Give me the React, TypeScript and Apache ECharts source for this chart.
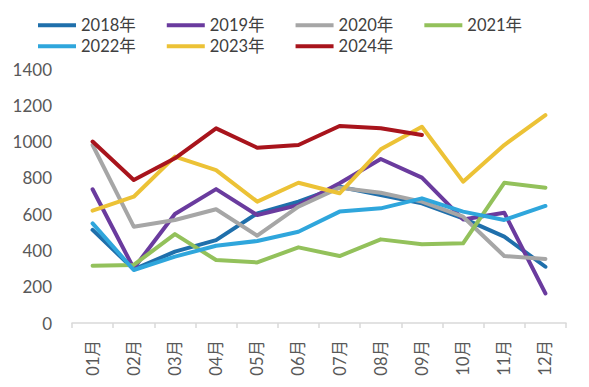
import React, { useEffect, useRef } from "react";
import * as echarts from "echarts";

const months = ["01月", "02月", "03月", "04月", "05月", "06月", "07月", "08月", "09月", "10月", "11月", "12月"];
const yearNames = ["2018年", "2019年", "2020年", "2021年", "2022年", "2023年", "2024年"];
const colors = ["#1f6fab", "#6a3b9e", "#a6a6a6", "#93c15b", "#2fa6dc", "#ecc236", "#a8141c"];

const v2018 = [513, 296, 393, 457, 604, 669, 751, 705, 660, 577, 476, 310];
const v2019 = [737, 301, 601, 738, 595, 650, 770, 904, 801, 571, 608, 163];
const v2020 = [981, 531, 568, 627, 481, 641, 746, 718, 669, 586, 369, 353];
const v2021 = [316, 320, 490, 347, 334, 417, 369, 461, 434, 439, 773, 746];
const v2022 = [549, 292, 366, 426, 452, 503, 614, 632, 687, 614, 568, 645];
const v2023 = [619, 696, 917, 843, 669, 773, 715, 957, 1082, 779, 981, 1146];
const v2024 = [1000, 788, 908, 1073, 966, 981, 1086, 1073, 1036];

const seriesValues = [v2018, v2019, v2020, v2021, v2022, v2023, v2024];

const FONT = "Lato, 'Noto Sans CJK SC', sans-serif";

export default function App() {
  const ref = useRef<HTMLDivElement>(null);
  useEffect(() => {
    if (!ref.current) return;
    const chart = echarts.init(ref.current, null, { renderer: "svg" });
    const legendCommon = {
      orient: "horizontal",
      icon: "rect",
      itemWidth: 38,
      itemHeight: 4,
      itemGap: 31,
      itemTextGap: 3,
      textStyle: { fontSize: 16.5, color: "#404040", fontFamily: FONT },
    };
    chart.setOption({
      animation: false,
      backgroundColor: "#ffffff",
      legend: [
        { ...legendCommon, left: 33, top: 12, data: yearNames.slice(0, 4) },
        { ...legendCommon, left: 33, top: 33, data: yearNames.slice(4) },
      ],
      grid: { left: 72, right: 23, top: 69, bottom: 64 },
      xAxis: {
        type: "category",
        data: months,
        boundaryGap: true,
        axisLine: { lineStyle: { color: "#d9d9d9", width: 1.5 } },
        axisTick: { show: true, length: 5, lineStyle: { color: "#d9d9d9", width: 1.5 } },
        axisLabel: { rotate: 90, margin: 17, fontSize: 16.5, color: "#595959", fontFamily: FONT },
      },
      yAxis: {
        type: "value",
        min: 0,
        max: 1400,
        interval: 200,
        axisLine: { show: false },
        axisTick: { show: false },
        splitLine: { show: false },
        axisLabel: {
          margin: 20,
          fontSize: 17,
          color: "#595959",
          fontFamily: FONT,
          formatter: (v: number) => String(v),
        },
      },
      series: seriesValues.map((vals, i) => ({
        name: yearNames[i],
        type: "line",
        data: vals,
        showSymbol: false,
        symbol: "none",
        color: colors[i],
        lineStyle: { width: 4, color: colors[i], cap: "round", join: "round" },
      })),
    });
    return () => chart.dispose();
  }, []);
  return (
    <div
      ref={ref}
      style={{ position: "fixed", left: 0, top: 0, width: 589, height: 387, background: "#fff" }}
    />
  );
}
